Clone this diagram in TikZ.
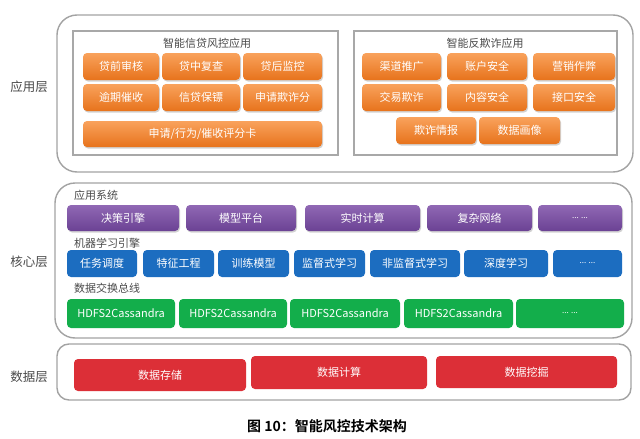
\documentclass[tikz,border=0pt]{standalone}
\usepackage{fontspec}
\setmainfont{Noto Sans CJK SC}[BoldFont={Noto Sans CJK SC Bold}]
\usetikzlibrary{shadows}
\definecolor{laygray}{HTML}{A3A3A3}
\definecolor{grpgray}{HTML}{A8A8A8}
\definecolor{orgtop}{HTML}{F9A25C}
\definecolor{orgbot}{HTML}{E7731C}
\definecolor{purtop}{HTML}{9068B4}
\definecolor{purbot}{HTML}{6B4294}
\definecolor{blufill}{HTML}{1C6DC0}
\definecolor{grnfill}{HTML}{13AE4B}
\definecolor{redfill}{HTML}{DC2F37}
\definecolor{labcol}{HTML}{4A4A4A}
\newcommand\fsz[1]{\fontsize{#1}{#1}\selectfont}
\newcommand\bx[7]{\node[#1, minimum width={(#5)-(#3)}, minimum height={(#6)-(#4)}] (#2) at ({((#3)+(#5))/2},{((#4)+(#6))/2}) {#7};}
\tikzset{
  layerbox/.style={draw=laygray, line width=1.4pt, rounded corners=20pt, fill=white, inner sep=0pt},
  datalayer/.style={layerbox, rounded corners=12pt},
  groupbox/.style={draw=grpgray, line width=1.4pt, inner sep=0pt},
  cbox/.style={rounded corners=4pt, text=white, font=\fsz{11}, inner sep=0pt},
  shad/.style={drop shadow={opacity=0.35, shadow xshift=1pt, shadow yshift=-1.5pt}},
  obox/.style={cbox, shad, top color=orgtop, bottom color=orgbot},
  pbox/.style={cbox, shad, top color=purtop, bottom color=purbot},
  bbox/.style={cbox, fill=blufill},
  gbox/.style={cbox, fill=grnfill},
  rbox/.style={cbox, fill=redfill},
  layerlab/.style={font=\fsz{12.5}, text=labcol},
  seclab/.style={font=\fsz{11}, text=labcol, anchor=west, inner sep=0pt},
  dots/.style={font=\fsz{8}}
}
\begin{document}
\begin{tikzpicture}[x=1pt,y=-1pt]
\useasboundingbox (0,0) rectangle (640,439);
\fill[white] (0,0) rectangle (640,439);
% ---------- application layer ----------
\bx{layerbox}{applayer}{57}{15}{633}{172}{}
\bx{groupbox}{gcredit}{73}{31}{338}{155}{}
\bx{groupbox}{gfraud}{354}{31}{617}{155}{}
\node[font=\fsz{11}, text=labcol] (tcredit) at (207,43) {智能信贷风控应用};
\node[font=\fsz{11}, text=labcol] (tfraud) at (485,43) {智能反欺诈应用};
\bx{obox}{o11}{83}{53}{159}{80}{贷前审核}
\bx{obox}{o12}{162}{53}{240}{80}{贷中复查}
\bx{obox}{o13}{243}{53}{322}{80}{贷后监控}
\bx{obox}{o21}{83}{84}{159}{111}{逾期催收}
\bx{obox}{o22}{162}{84}{240}{111}{信贷保镖}
\bx{obox}{o23}{243}{84}{322}{111}{申请欺诈分}
\bx{obox}{o31}{83}{121}{322}{147}{申请/行为/催收评分卡}
\bx{obox}{f11}{362}{53}{441}{80}{渠道推广}
\bx{obox}{f12}{447}{53}{527}{80}{账户安全}
\bx{obox}{f13}{533}{53}{615}{80}{营销作弊}
\bx{obox}{f21}{362}{84}{441}{111}{交易欺诈}
\bx{obox}{f22}{447}{84}{527}{111}{内容安全}
\bx{obox}{f23}{533}{84}{615}{111}{接口安全}
\bx{obox}{f31}{396}{117}{476}{144}{欺诈情报}
\bx{obox}{f32}{479}{117}{560}{144}{数据画像}
\node[layerlab] (lapp) at (29,87) {应用层};
% ---------- core layer ----------
\bx{layerbox}{corelayer}{55}{183}{632}{338}{}
\node[seclab] (sapp) at (74,195) {应用系统};
\bx{pbox}{p1}{67}{205}{179}{231}{决策引擎}
\bx{pbox}{p2}{186}{205}{296}{231}{模型平台}
\bx{pbox}{p3}{305}{205}{420}{231}{实时计算}
\bx{pbox}{p4}{427}{205}{532}{231}{复杂网络}
\bx{pbox}{p5}{538}{205}{622}{231}{\fsz{8}... ...}
\node[seclab] (sml) at (74,243) {机器学习引擎};
\bx{bbox}{b1}{67}{250}{137}{277}{任务调度}
\bx{bbox}{b2}{143}{250}{214}{277}{特征工程}
\bx{bbox}{b3}{218}{250}{289}{277}{训练模型}
\bx{bbox}{b4}{294}{250}{365}{277}{监督式学习}
\bx{bbox}{b5}{370}{250}{460}{277}{非监督式学习}
\bx{bbox}{b6}{464}{250}{548}{277}{深度学习}
\bx{bbox}{b7}{553}{250}{622}{277}{\fsz{8}... ...}
\node[seclab] (sbus) at (74,288) {数据交换总线};
\bx{gbox}{g1}{67}{299}{175}{328}{HDFS2Cassandra}
\bx{gbox}{g2}{179}{299}{287}{328}{HDFS2Cassandra}
\bx{gbox}{g3}{290}{299}{400}{328}{HDFS2Cassandra}
\bx{gbox}{g4}{404}{299}{513}{328}{HDFS2Cassandra}
\bx{gbox}{g5}{516}{299}{624}{328}{\fsz{8}... ...}
\node[layerlab] (lcore) at (29,262) {核心层};
% ---------- data layer ----------
\bx{datalayer}{datalayer}{57}{344}{631}{400}{}
\bx{rbox}{r1}{74}{359}{246}{391}{数据存储}
\bx{rbox}{r2}{251}{356}{427}{389}{数据计算}
\bx{rbox}{r3}{436}{356}{617}{388}{数据挖掘}
\node[layerlab] (ldata) at (29,377) {数据层};
% ---------- caption ----------
\node[font=\fsz{14}\bfseries] (caption) at (327,426) {图 10：智能风控技术架构};
\end{tikzpicture}
\end{document}
